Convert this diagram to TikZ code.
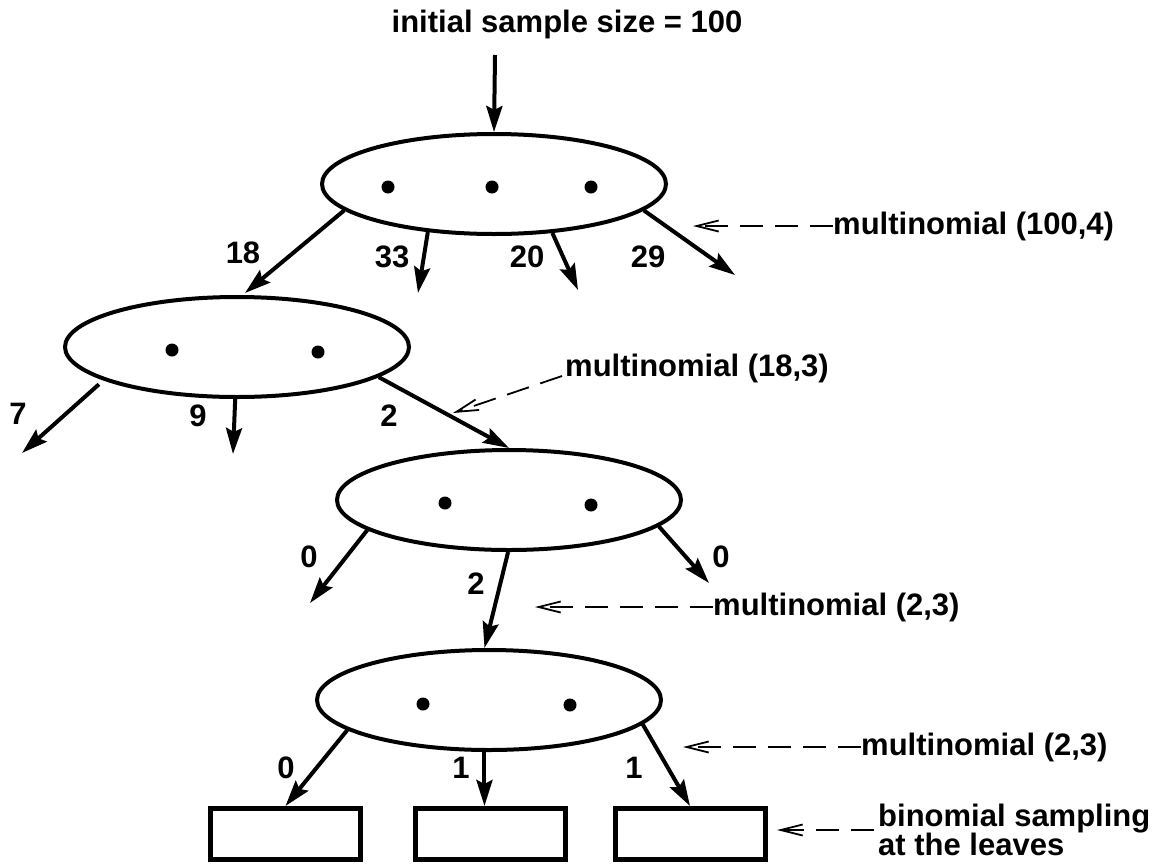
\documentclass[tikz,border=0pt]{standalone}
\usepackage{fontspec}
\setmainfont{Liberation Sans}
\usetikzlibrary{arrows.meta,shapes.geometric}
\setlength{\lineskiplimit}{-50pt}

\begin{document}
\begin{tikzpicture}[x=1pt,y=-1pt,
  every node/.style={font=\fontsize{31}{27}\selectfont\bfseries, inner sep=0pt},
  cell/.style={ellipse, draw, line width=4pt, minimum width=344pt, minimum height=100pt},
  leaf/.style={rectangle, draw, line width=5pt, minimum width=150pt, minimum height=51pt},
  pip/.style={circle, fill, minimum size=13pt},
  flow/.style={line width=4pt, -{Stealth[length=26pt,width=16pt,inset=4pt]}},
  note/.style={line width=1.8pt, dash pattern=on 23pt off 12pt, -{Straight Barb[length=22pt,width=11pt]}}
]
\useasboundingbox (0,0) rectangle (1156,865);

% title and the incoming sample
\node (title) at (567,24) {initial sample size = 100};
\coordinate (src) at (495,55);

% the four sampling nodes
\node[cell] (e1) at (494,184) {};
\node[cell] (e2) at (237,347) {};
\node[cell] (e3) at (509,500) {};
\node[cell] (e4) at (489,700) {};

% dots inside the nodes
\node[pip] (p11) at (388,187) {};
\node[pip] (p12) at (492,187) {};
\node[pip] (p13) at (591,187) {};
\node[pip] (p21) at (172,350) {};
\node[pip] (p22) at (318,352) {};
\node[pip] (p31) at (445,503) {};
\node[pip] (p32) at (591,505) {};
\node[pip] (p41) at (423,704) {};
\node[pip] (p42) at (570,705) {};

% leaves
\node[leaf] (b1) at (285.5,834) {};
\node[leaf] (b2) at (490.5,834) {};
\node[leaf] (b3) at (690,834) {};

% free ends of the branches
\coordinate (t18) at (245,293);
\coordinate (t33) at (418,293);
\coordinate (t20) at (578,290);
\coordinate (t29) at (735,275);
\coordinate (t7) at (22,453);
\coordinate (t9) at (233,454);
\coordinate (t0l) at (310,603);
\coordinate (t0r) at (709,583);

% branches
\draw[flow] (src) -- (e1.north);
\draw[flow] (e1.190) -- (t18);
\draw[flow] (e1.216) -- (t33);
\draw[flow] (e1.320) -- (t20);
\draw[flow] (e1.350) -- (t29);
\draw[flow, shorten <=6pt] (e2.194) -- (t7);
\draw[flow] (e2.268) -- (t9);
\draw[flow] (e2.348) -- (e3.north);
\draw[flow] (e3.192) -- (t0l);
\draw[flow] (e3.269) -- (e4.95);
\draw[flow] (e3.350) -- (t0r);
\draw[flow] (e4.192) -- (b1.north);
\draw[flow] (e4.265) -- (e4.265 |- b2.north);
\draw[flow] (e4.351) -- (b3.north);

% branch counts
\node (l18) at (243,253) {18};
\node (l33) at (392,257) {33};
\node (l20) at (527,257) {20};
\node (l29) at (648,257) {29};
\node (l7)  at (18,414) {7};
\node (l9)  at (198,416) {9};
\node (l2a) at (389,416) {2};
\node (l0a) at (309,557) {0};
\node (l2b) at (476,584) {2};
\node (l0b) at (721,557) {0};
\node (l0c) at (286,768) {0};
\node (l1a) at (461,768) {1};
\node (l1b) at (634,768) {1};

% annotations
\node[anchor=west] (m1) at (833,226) {multinomial (100,4)};
\coordinate (a1) at (693,226);
\draw[note] (m1.west) -- (a1);

\node[anchor=west] (m2) at (565,368) {multinomial (18,3)};
\coordinate (a2) at (453,413);
\draw[note] ([xshift=-3pt]m2.base west) -- (a2);

\node[anchor=west] (m3) at (713,607) {multinomial (2,3)};
\coordinate (a3) at (535,607);
\draw[note] (m3.west) -- (a3);

\node[anchor=west] (m4) at (861,747) {multinomial (2,3)};
\coordinate (a4) at (683,747);
\draw[note] (m4.west) -- (a4);

\node[anchor=west, align=left, font=\fontsize{31}{29}\selectfont\bfseries] (m5) at (878,830) {binomial sampling\\at the leaves};
\coordinate (a5) at (777,830);
\draw[note] ([xshift=-4pt]m5.west) -- (a5);
\end{tikzpicture}
\end{document}
